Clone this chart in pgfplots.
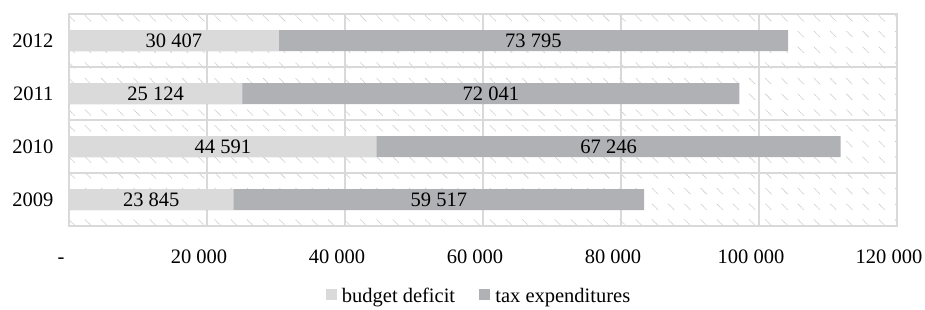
\documentclass[border=0pt]{standalone}
\usepackage{fontspec}
\setmainfont{Liberation Serif}
\usepackage{pgfplots}
\usepackage{pgfplotstable}
\pgfplotsset{compat=1.18}
\usetikzlibrary{patterns}
\definecolor{cdef}{HTML}{DADADB}
\definecolor{ctax}{HTML}{B0B1B4}
\definecolor{cgrid}{HTML}{D9D9D9}
\definecolor{chatch}{HTML}{CDCDCD}
\pgfdeclarepatternformonly{mydash}{\pgfpoint{-1pt}{-1pt}}{\pgfpoint{17.2pt}{16.7pt}}{\pgfpoint{16.2pt}{15.7pt}}{%
  \pgfsetlinewidth{0.75pt}%
  \pgfsetdash{{1.2pt}{0.6pt}}{0pt}%
  \pgfpathmoveto{\pgfpoint{4pt}{11pt}}%
  \pgfpathlineto{\pgfpoint{10pt}{5pt}}%
  \pgfusepath{stroke}}
\pgfplotstableread{
year deficit tax
2009 23845 59517
2010 44591 67246
2011 25124 72041
2012 30407 73795
}\data
\begin{document}
\begin{tikzpicture}
\useasboundingbox (-69pt,-83pt) rectangle (856pt,226pt);
\begin{axis}[
  at={(0,0)}, anchor=south west,
  width=828pt, height=212pt, scale only axis,
  xmin=0, xmax=120000, ymin=2008.5, ymax=2012.5,
  scaled x ticks=false,
  xtick={0,20000,40000,60000,80000,100000,120000},
  xticklabels={-\hspace{12pt},20 000,40 000,60 000,80 000,100 000,120 000},
  ytick={2009,2010,2011,2012},
  yticklabels={2009,2010,2011,2012},
  minor ytick={2009.5,2010.5,2011.5},
  major tick length=0pt, minor tick length=0pt,
  xmajorgrids, yminorgrids,
  grid style={draw=cgrid, line width=1.5pt},
  minor grid style={draw=cgrid, line width=1.5pt},
  axis line style={draw=cgrid, line width=1.5pt},
  axis background/.style={pattern=mydash, pattern color=chatch},
  tick label style={font=\fontsize{20.5}{24}\selectfont},
  xticklabel style={xshift=-8pt, yshift=-20pt, text height=14pt, text depth=0pt},
  yticklabel style={xshift=-12pt},
  /pgf/number format/.cd, 1000 sep={\ }, fixed, precision=0, assume math mode=true,
  /pgfplots/.cd,
  legend style={at={(0.5,0)}, anchor=north, yshift=-58pt, xshift=-4pt, draw=none, fill=none,
    font=\fontsize{20.5}{24}\selectfont, legend columns=2,
    /tikz/every even column/.append style={column sep=22pt}},
  legend image code/.code={\fill[#1, draw=none] (0pt,-4pt) rectangle (11pt,7pt); \path (14pt,0pt);},
]
\addlegendimage{fill=cdef}
\addlegendentry{budget deficit}
\addlegendimage{fill=ctax}
\addlegendentry{tax expenditures}
\addplot[xbar, bar width=21pt, bar shift=0pt, fill=ctax, draw=none]
  table[x expr=\thisrow{deficit}+\thisrow{tax}, y=year] {\data};
\addplot[xbar, bar width=21pt, bar shift=0pt, fill=cdef, draw=none]
  table[x=deficit, y=year] {\data};
\addplot[draw=none, mark=none, nodes near coords, point meta=explicit,
  every node near coord/.append style={anchor=center, font=\fontsize{20.5}{24}\selectfont, text=black}]
  table[x expr=\thisrow{deficit}/2, y=year, meta=deficit] {\data};
\addplot[draw=none, mark=none, nodes near coords, point meta=explicit,
  every node near coord/.append style={anchor=center, font=\fontsize{20.5}{24}\selectfont, text=black}]
  table[x expr=\thisrow{deficit}+\thisrow{tax}/2, y=year, meta=tax] {\data};
\end{axis}
\end{tikzpicture}
\end{document}
